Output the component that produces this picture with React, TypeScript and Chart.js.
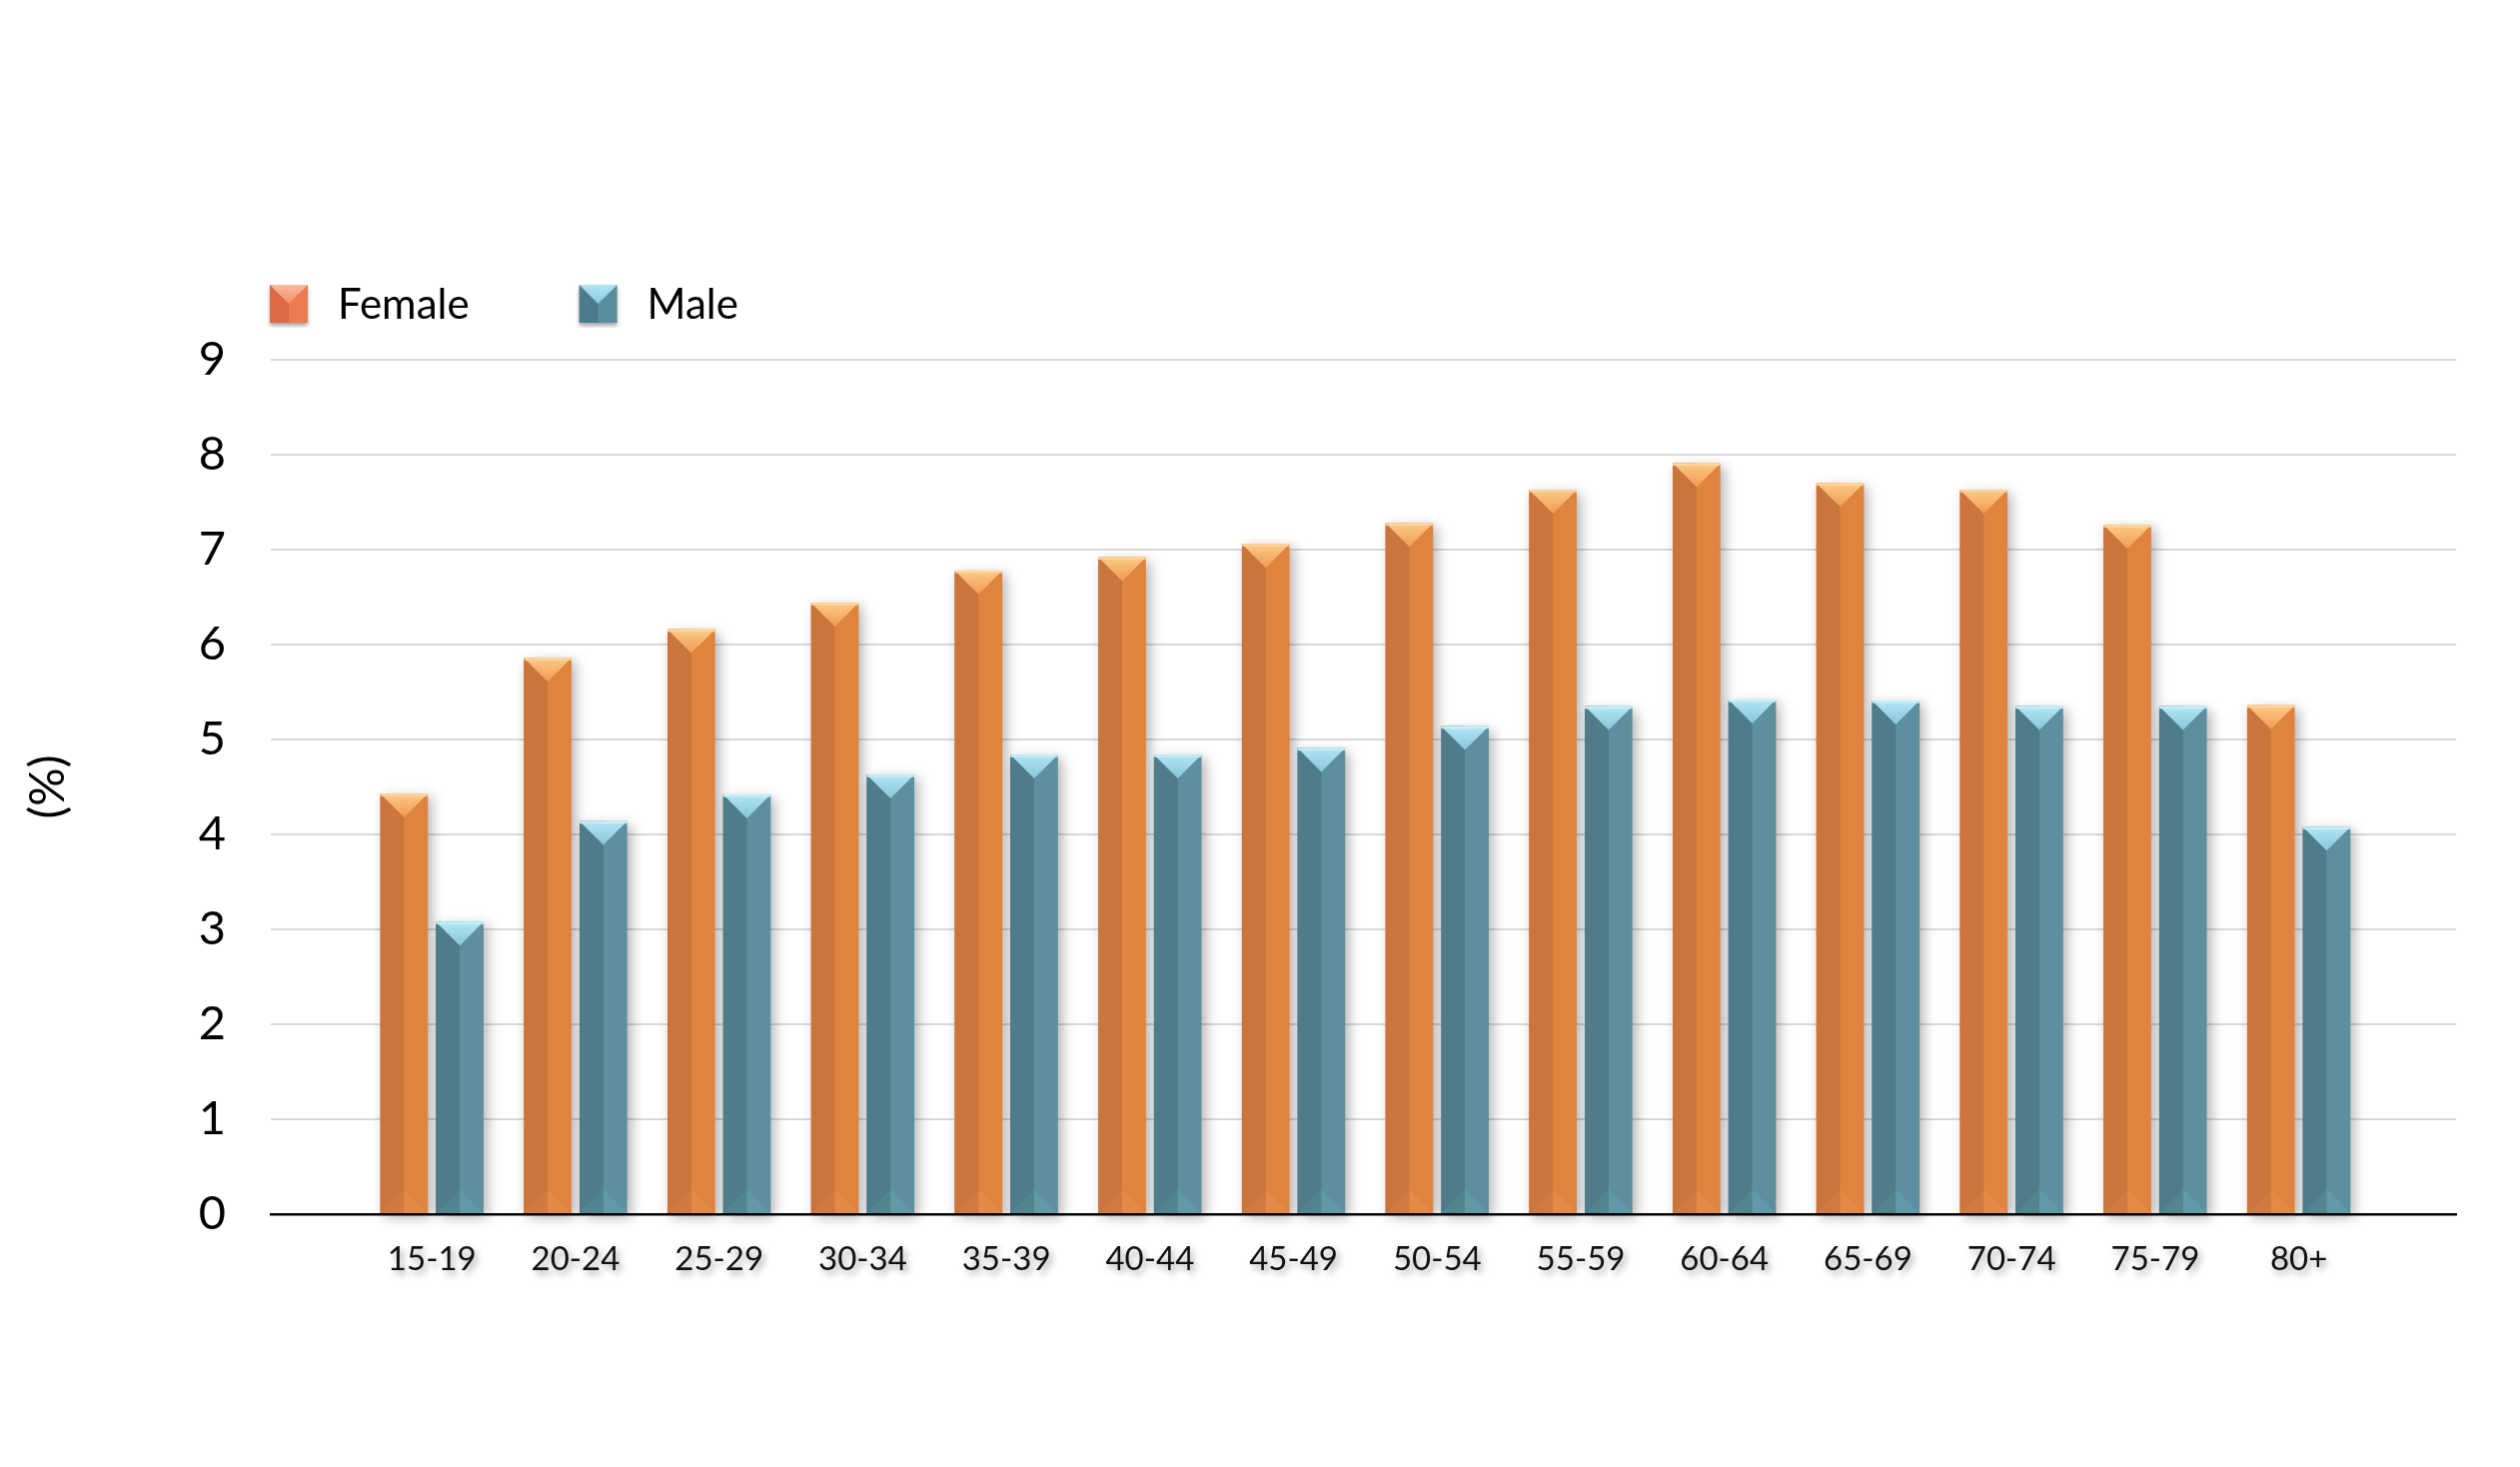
import React, { useEffect, useRef } from 'react';
import { Chart, registerables, LinearScale } from 'chart.js';

// ---------- data ----------
const categories = ['15-19', '20-24', '25-29', '30-34', '35-39', '40-44', '45-49', '50-54', '55-59', '60-64', '65-69', '70-74', '75-79', '80+'];
const femaleValues = [4.43, 5.86, 6.16, 6.44, 6.78, 6.92, 7.06, 7.28, 7.63, 7.91, 7.7, 7.63, 7.26, 5.36];
const maleValues = [3.08, 4.14, 4.42, 4.63, 4.84, 4.84, 4.91, 5.14, 5.35, 5.42, 5.41, 5.35, 5.35, 4.08];
const seriesLabels = ['Female', 'Male'];
const yAxisTitle = '(%)';
const yMin = 0;
const yMax = 9;
const yStep = 1;

// ---------- styling ----------
const W = 2522;
const H = 1468;
const FONT = 'Lato';
const palettes = [
  { main: '#E0833F', left: '#C9753C', topA: '#FBCB88', topB: '#EF9B52', bottomL: '#CE7A40', bottomR: '#E38A47', edge: 'rgba(255,214,160,0.9)' },
  { main: '#5E8F9F', left: '#4E7C8B', topA: '#B4E6F5', topB: '#86C6DA', bottomL: '#54858F', bottomR: '#6398A7', edge: 'rgba(200,240,250,0.9)' },
];
const legendPalettes = [
  { left: '#DC6A44', right: '#EB7B51', topA: '#FABBA0', topB: '#F08E6A' },
  { left: '#4B7C8C', right: '#5A8D9D', topA: '#B2E4F4', topB: '#8BCBE0' },
];
const LEGEND_X = 261;
const LEGEND_CY = 305;
const LEGEND_PAD = 101;
const LEGEND_FONT = 42;

class ShadowLinearScale extends LinearScale {
  static id = 'shadowLinear';
  drawLabels(chartArea: any) {
    const ctx = this.ctx;
    ctx.save();
    ctx.shadowColor = 'rgba(0,0,0,0.35)';
    ctx.shadowBlur = 7;
    ctx.shadowOffsetX = 3;
    ctx.shadowOffsetY = 4;
    super.drawLabels(chartArea);
    ctx.restore();
  }
}

Chart.register(...registerables, ShadowLinearScale);

function makeMarker(p: { left: string; right: string; topA: string; topB: string }) {
  const c = document.createElement('canvas');
  c.width = 46;
  c.height = 46;
  const ctx = c.getContext('2d')!;
  const x0 = 4, y0 = 3, s = 38;
  ctx.save();
  ctx.shadowColor = 'rgba(0,0,0,0.35)';
  ctx.shadowBlur = 4;
  ctx.shadowOffsetY = 3;
  ctx.fillStyle = p.right;
  ctx.fillRect(x0, y0, s, s);
  ctx.restore();
  ctx.fillStyle = p.left;
  ctx.fillRect(x0, y0, s / 2, s);
  const g = ctx.createLinearGradient(0, y0, 0, y0 + s * 0.5);
  g.addColorStop(0, p.topA);
  g.addColorStop(1, p.topB);
  ctx.fillStyle = g;
  ctx.beginPath();
  ctx.moveTo(x0, y0);
  ctx.lineTo(x0 + s, y0);
  ctx.lineTo(x0 + s / 2, y0 + s * 0.5);
  ctx.closePath();
  ctx.fill();
  return c;
}

const bevelPlugin = {
  id: 'bevel',
  beforeDatasetsDraw(chart: any) {
    const ctx = chart.ctx;
    ctx.save();
    ctx.shadowColor = 'rgba(0,0,0,0.30)';
    ctx.shadowBlur = 12;
    ctx.shadowOffsetX = 4;
    ctx.shadowOffsetY = 4;
  },
  afterDatasetsDraw(chart: any) {
    const ctx = chart.ctx;
    ctx.restore();
    chart.data.datasets.forEach((_ds: any, di: number) => {
      const meta = chart.getDatasetMeta(di);
      const pal = palettes[di];
      meta.data.forEach((el: any) => {
        const { x, y, base, width } = el.getProps(['x', 'y', 'base', 'width'], true);
        const l = x - width / 2;
        const r = x + width / 2;
        const top = Math.min(y, base);
        const bot = Math.max(y, base);
        const tri = width * 0.5;
        ctx.save();
        ctx.fillStyle = pal.left;
        ctx.fillRect(l, top, x - l, bot - top);
        // bottom bevel
        ctx.fillStyle = pal.bottomL;
        ctx.beginPath();
        ctx.moveTo(l, bot);
        ctx.lineTo(x, bot);
        ctx.lineTo(x, bot - tri);
        ctx.closePath();
        ctx.fill();
        ctx.fillStyle = pal.bottomR;
        ctx.beginPath();
        ctx.moveTo(x, bot);
        ctx.lineTo(r, bot);
        ctx.lineTo(x, bot - tri);
        ctx.closePath();
        ctx.fill();
        // top bevel
        const g = ctx.createLinearGradient(0, top, 0, top + tri);
        g.addColorStop(0, pal.topA);
        g.addColorStop(1, pal.topB);
        ctx.fillStyle = g;
        ctx.beginPath();
        ctx.moveTo(l, top);
        ctx.lineTo(r, top);
        ctx.lineTo(x, top + tri);
        ctx.closePath();
        ctx.fill();
        ctx.fillStyle = pal.edge;
        ctx.fillRect(l, top, width, 2.5);
        ctx.restore();
      });
    });
  },
};

const legendPlacePlugin = {
  id: 'legendPlace',
  afterLayout(chart: any) {
    const lg = chart.legend;
    if (!lg) return;
    const pad = lg.options.labels.padding;
    const fs = lg.options.labels.font.size;
    lg.left = LEGEND_X - pad;
    lg.top = LEGEND_CY - fs / 2 - pad;
  },
};

export default function App() {
  const ref = useRef<HTMLCanvasElement | null>(null);

  useEffect(() => {
    document.body.style.margin = '0';
    document.body.style.overflow = 'hidden';
    document.body.style.background = '#ffffff';
    if (!ref.current) return;
    const markers = legendPalettes.map(makeMarker);
    const chart = new Chart(ref.current, {
      type: 'bar',
      data: {
        datasets: [
          {
            label: seriesLabels[0],
            data: femaleValues.map((v, i) => ({ x: i, y: v })),
            backgroundColor: palettes[0].main,
            borderWidth: 0,
            clip: false as any,
          },
          {
            label: seriesLabels[1],
            data: maleValues.map((v, i) => ({ x: i, y: v })),
            backgroundColor: palettes[1].main,
            borderWidth: 0,
            clip: false as any,
          },
        ],
      },
      options: {
        animation: false,
        responsive: true,
        maintainAspectRatio: false,
        categoryPercentage: 0.775,
        barPercentage: 0.856,
        layout: { padding: { left: 10, right: W - 2458, top: 207, bottom: 0 } },
        events: [],
        plugins: {
          tooltip: { enabled: false },
          title: { display: false },
          legend: {
            display: true,
            position: 'top',
            align: 'start',
            labels: {
              usePointStyle: true,
              pointStyleWidth: 56,
              padding: LEGEND_PAD,
              color: '#000000',
              font: { family: FONT, size: LEGEND_FONT },
              generateLabels: (ch: any) =>
                ch.data.datasets.map((ds: any, i: number) => ({
                  text: ds.label,
                  pointStyle: markers[i],
                  fillStyle: 'rgba(0,0,0,0)',
                  strokeStyle: 'rgba(0,0,0,0)',
                  lineWidth: 0,
                  hidden: false,
                  datasetIndex: i,
                  fontColor: '#000000',
                })),
            },
          },
        },
        scales: {
          x: {
            type: 'shadowLinear' as any,
            min: -1.122,
            max: 14.095,
            offset: false,
            grid: { display: false, drawTicks: false },
            border: { display: true, color: '#000000', width: 2.5, z: 1 },
            afterBuildTicks: (scale: any) => {
              scale.ticks = categories.map((_c, i) => ({ value: i }));
            },
            afterFit: (scale: any) => {
              scale.height = H - 1215;
            },
            ticks: {
              autoSkip: false,
              maxRotation: 0,
              minRotation: 0,
              padding: 26,
              color: '#111111',
              font: { family: FONT, size: 33 },
              callback: (v: any) => categories[v as number] ?? '',
            },
          } as any,
          y: {
            type: 'linear',
            min: yMin,
            max: yMax,
            grid: { display: true, color: '#d9d9d9', lineWidth: 2, drawTicks: false },
            border: { display: false },
            afterFit: (scale: any) => {
              scale.width = 261;
            },
            ticks: {
              stepSize: yStep,
              padding: 45,
              color: '#000000',
              font: { family: FONT, size: 47 },
            },
            title: {
              display: true,
              text: yAxisTitle,
              color: '#000000',
              font: { family: FONT, size: 48 },
              padding: { top: 10, bottom: 0 },
            },
          },
        },
      },
      plugins: [bevelPlugin, legendPlacePlugin],
    });
    return () => chart.destroy();
  }, []);

  return (
    <div style={{ position: 'relative', width: W, height: H, background: '#ffffff' }}>
      <canvas ref={ref} />
    </div>
  );
}
